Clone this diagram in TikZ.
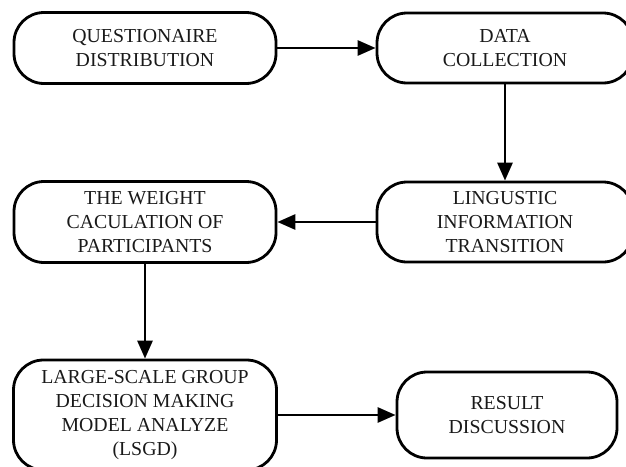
\documentclass[tikz,border=0pt]{standalone}
\usepackage{fontspec}
\setmainfont{Liberation Serif}
\usetikzlibrary{arrows.meta}
\begin{document}
\begin{tikzpicture}[x=1pt,y=-1pt,
  box/.style={draw, line width=2.8pt, rounded corners=30pt, align=center, inner sep=0pt,
    text=black!90, font=\fontsize{19.8}{24}\selectfont},
  conn/.style={line width=2.8pt, -{Triangle[length=18pt,width=15pt]}}]
\useasboundingbox (0,0) rectangle (626,466);
\node[box, minimum width=262pt, minimum height=71pt] (q) at (145,48) {QUESTIONAIRE\\DISTRIBUTION};
\node[box, minimum width=256pt, minimum height=70pt] (d) at (505,48) {DATA\\COLLECTION};
\node[box, minimum width=256pt, minimum height=80pt] (l) at (505,222) {LINGUSTIC\\INFORMATION\\TRANSITION};
\node[box, minimum width=262pt, minimum height=81pt] (w) at (145,222) {THE WEIGHT\\CACULATION OF\\PARTICIPANTS};
\node[box, minimum width=263pt, minimum height=110pt] (g) at (145,415) {LARGE-SCALE GROUP\\DECISION MAKING\\MODEL ANALYZE\\(LSGD)};
\node[box, minimum width=220pt, minimum height=86pt] (r) at (507,415) {RESULT\\DISCUSSION};
\draw[conn] (q.east) -- (d.west);
\draw[conn] (d.south) -- (l.north);
\draw[conn] (l.west) -- (w.east);
\draw[conn] (w.south) -- (g.north);
\draw[conn] (g.east) -- (r.west);
\end{tikzpicture}
\end{document}
